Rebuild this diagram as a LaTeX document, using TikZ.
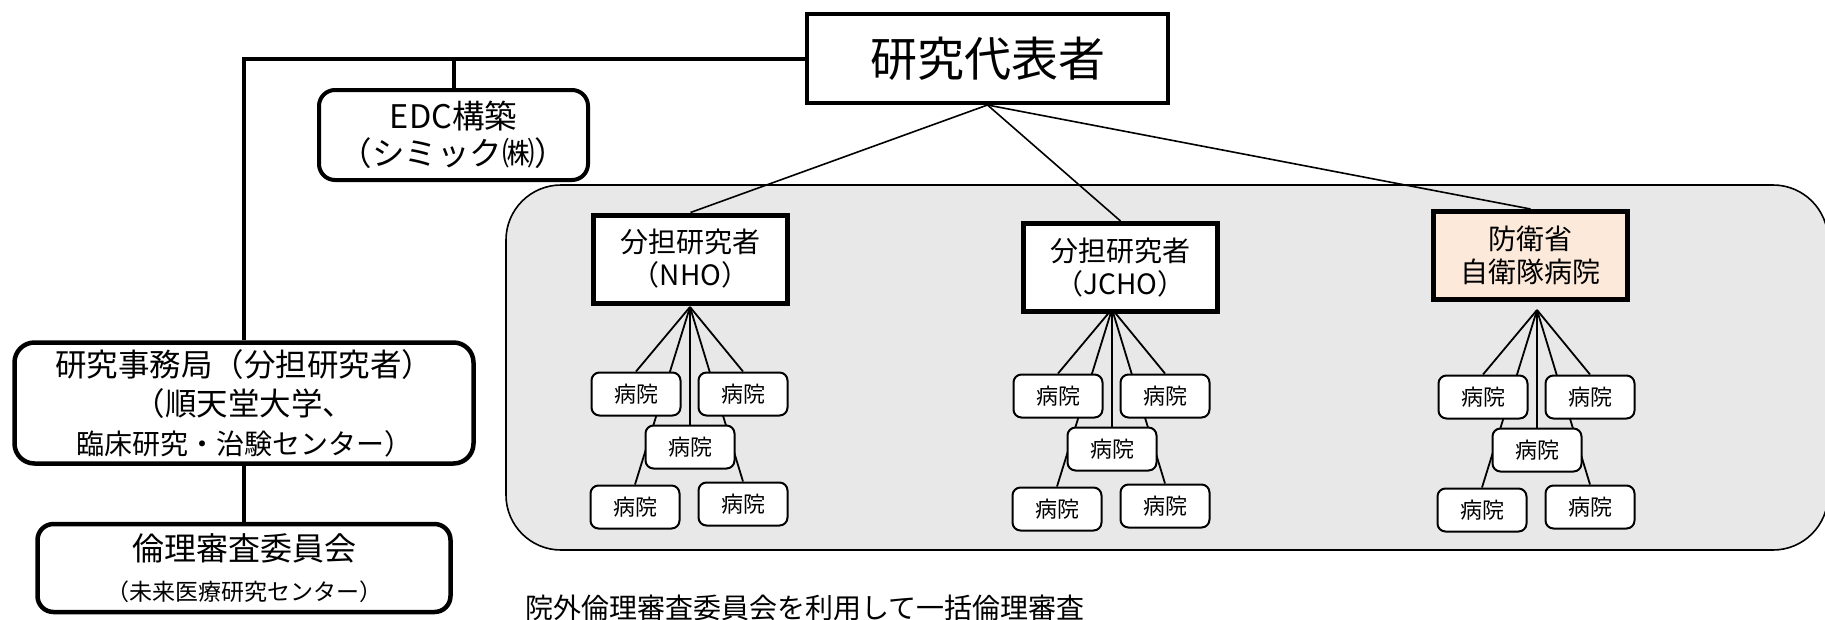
\documentclass[tikz,border=0pt]{standalone}
\usepackage{fontspec}
\setmainfont{Noto Sans CJK JP}
\usepackage{tikz}
\usetikzlibrary{positioning,calc}
\definecolor{panelgray}{RGB}{232,232,232}
\definecolor{peach}{RGB}{253,233,217}
\pgfdeclarelayer{panel}
\pgfdeclarelayer{wires}
\pgfsetlayers{panel,wires,main}
\tikzset{
  head/.style={draw,line width=4pt,fill=white,minimum width=361pt,minimum height=89pt,
               inner sep=0pt,font=\fontsize{47}{56}\selectfont},
  org/.style={draw,line width=4.5pt,fill=white,rounded corners=16pt,inner sep=0pt,
              align=center},
  grp/.style={draw,line width=5pt,fill=white,minimum width=194pt,minimum height=88pt,
              inner sep=0pt,align=center,font=\fontsize{28}{33}\selectfont},
  grpdef/.style={grp,fill=peach},
  hosp/.style={draw,line width=2pt,fill=white,rounded corners=8pt,minimum width=89pt,
               minimum height=43pt,inner sep=0pt,font=\fontsize{22}{26}\selectfont},
  trunk/.style={line width=4pt},
  feed/.style={line width=1.6pt},
  wire/.style={line width=1.8pt},
  groupbg/.style={draw,line width=1.6pt,fill=panelgray,rounded corners=55pt},
}

\begin{document}
\begin{tikzpicture}[x=1pt,y=-1pt]
  \useasboundingbox (0,0) rectangle (1825,619);
  % Left column
  \node[head] (title) at (987.5,58.5) {研究代表者};
  \node[org,line width=4pt,minimum width=269pt,minimum height=90pt,
        font=\fontsize{32.5}{37}\selectfont] (edc) at (453.5,135) {EDC構築\\（シミック㈱）};
  \node[org,rounded corners=20pt,minimum width=459pt,minimum height=121pt,
        font=\fontsize{31.5}{39}\selectfont] (office) at (244,403)
        {研究事務局（分担研究者）\\（順天堂大学、\\{\fontsize{28}{39}\selectfont 臨床研究・治験センター）}};
  \node[org,minimum width=413pt,minimum height=88pt,below=56pt of office,
        font=\fontsize{32}{40}\selectfont] (ethics)
        {倫理審査委員会\\{\fontsize{23}{40}\selectfont （未来医療研究センター）}};
  \draw[trunk] (title.west) -| (office.north);
  \draw[trunk] (edc.north) -- (edc.north |- title.west);
  \draw[trunk] (office) -- (ethics);
  % Shared review panel
  \begin{pgfonlayer}{panel}
    \draw[groupbg] (506,185) rectangle (1828,550);
  \end{pgfonlayer}
  \node[grp] (nho) at (690.5,259) {分担研究者\\（NHO）};
  \node[grp] (jcho) at (1120.5,267.5) {分担研究者\\（JCHO）};
  \node[grpdef] (jsdf) at (1530.5,255.5) {防衛省\\自衛隊病院};
  \begin{pgfonlayer}{wires}
    \draw[feed] (title.south) -- (nho.north);
    \draw[feed] (title.south) -- (jcho.north);
    \draw[feed] (title.south) -- (jsdf.north);
  \end{pgfonlayer}
  % Hospitals under each group
  \foreach \g/\fx/\fy in {nho/690/307,jcho/1112/309,jsdf/1537/310}{
    \coordinate (\g-fan) at (\fx,\fy);
    \node[hosp] (\g-tl) at ($(\g-fan)+(-54,87)$) {病院};
    \node[hosp] (\g-tr) at ($(\g-fan)+(53,87)$) {病院};
    \node[hosp] (\g-m) at ($(\g-fan)+(0,140)$) {病院};
    \node[hosp] (\g-bl) at ($(\g-fan)+(-55,200)$) {病院};
    \node[hosp] (\g-br) at ($(\g-fan)+(53,197)$) {病院};
    \begin{pgfonlayer}{wires}
      \foreach \h in {tl,tr,m,bl,br}
        \draw[wire] (\g-fan) -- (\g-\h.north);
    \end{pgfonlayer}
  }
  \node[anchor=west,inner sep=0pt,font=\fontsize{28}{34}\selectfont] (note) at (525,608)
    {院外倫理審査委員会を利用して一括倫理審査};
\end{tikzpicture}
\end{document}
